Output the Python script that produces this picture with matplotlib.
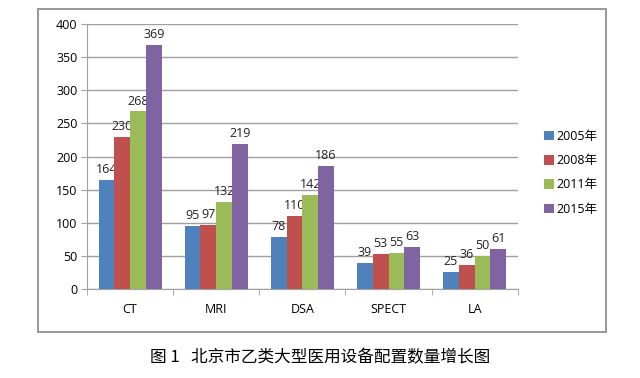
import numpy as np
import matplotlib
matplotlib.use("Agg")
import matplotlib.pyplot as plt
from matplotlib.patches import Rectangle

categories = ["CT", "MRI", "DSA", "SPECT", "LA"]
years = ["2005年", "2008年", "2011年", "2015年"]
values = {
    "2005年": [164, 95, 78, 39, 25],
    "2008年": [230, 97, 110, 53, 36],
    "2011年": [268, 132, 142, 55, 50],
    "2015年": [369, 219, 186, 63, 61],
}
colors = ["#4F81BD", "#C0504D", "#9BBB59", "#8064A2"]

plt.rcParams["font.family"] = ["Open Sans", "Noto Sans CJK SC", "DejaVu Sans"]

fig = plt.figure(figsize=(6.4, 3.78), dpi=100)
# outer chart frame
fig.patches.append(Rectangle((38 / 640, 1 - 332 / 378), 568 / 640, 323 / 378,
                             transform=fig.transFigure, fill=False,
                             edgecolor="#909090", linewidth=1.3))

ax = fig.add_axes([0.136, 0.2354, 0.673, 0.701])
x = np.arange(len(categories))
w = 0.183
for i, y in enumerate(years):
    pos = x + (i - 1.5) * w
    ax.bar(pos, values[y], w, color=colors[i], label=y, zorder=3)
    for p, v in zip(pos, values[y]):
        ax.text(p, v + 6, str(v), ha="center", va="bottom", fontsize=9,
                color="#222222")

ax.set_xlim(-0.5, len(categories) - 0.5)
ax.set_ylim(0, 400)
ax.set_yticks(range(0, 401, 50))
ax.yaxis.grid(True, color="#a0a0a0", linewidth=1, zorder=0)
ax.set_xticks(x)
ax.set_xticklabels(categories)
ax.set_xticks(np.arange(-0.5, len(categories)), minor=True)
ax.tick_params(axis="x", which="major", length=0, pad=10, labelsize=9)
ax.tick_params(axis="x", which="minor", length=4, color="#a0a0a0")
ax.tick_params(axis="y", length=4, color="#a0a0a0", labelsize=9, pad=3)
for s in ["top", "right"]:
    ax.spines[s].set_visible(False)
for s in ["left", "bottom"]:
    ax.spines[s].set_color("#a0a0a0")

handles, labels = ax.get_legend_handles_labels()
fig.legend(handles, labels, loc="upper left", bbox_to_anchor=(0.832, 0.686),
           frameon=False, fontsize=9, handlelength=0.8, handleheight=0.8,
           handletextpad=0.2, labelspacing=0.9)

fig.text(0.5, 1 - 358 / 378, "图 1   北京市乙类大型医用设备配置数量增长图",
         ha="center", va="center", fontsize=12,
         family=["Noto Sans CJK SC", "DejaVu Sans"])

fig.savefig("out.png", dpi=100)
